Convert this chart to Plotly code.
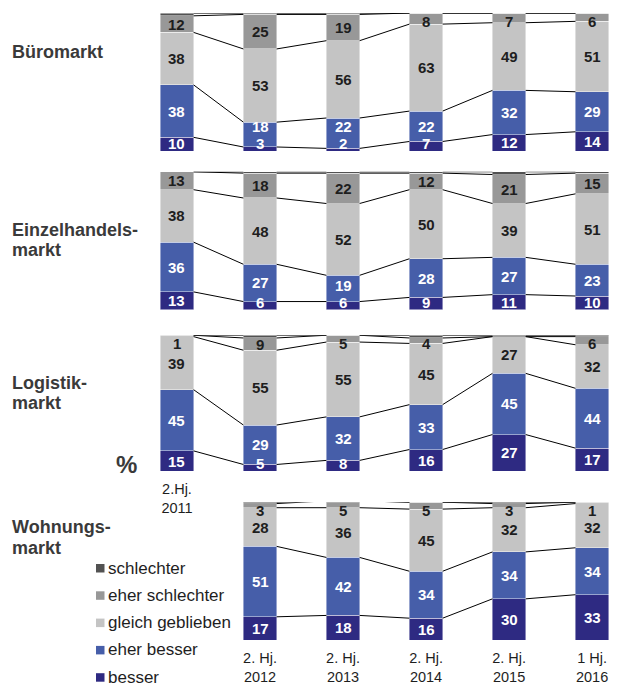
import plotly.graph_objects as go

# Survey periods (x positions 0..5)
periods = ["2.Hj. 2011", "2. Hj. 2012", "2. Hj. 2013", "2. Hj. 2014", "2. Hj. 2015", "1 Hj. 2016"]
tick_first = ["2.Hj.<br>2011"]
tick_bottom = ["2. Hj.<br>2012", "2. Hj.<br>2013", "2. Hj.<br>2014", "2. Hj.<br>2015", "1 Hj.<br>2016"]

series_names = ["besser", "eher besser", "gleich geblieben", "eher schlechter", "schlechter"]
series_colors = ["#2e2a82", "#465ea9", "#c4c4c4", "#989898", "#525252"]
label_colors = ["white", "white", "#1e1e1e", "#1e1e1e", None]

# Büromarkt
buero_besser = [10, 3, 2, 7, 12, 14]
buero_eher_besser = [38, 18, 22, 22, 32, 29]
buero_gleich = [38, 53, 56, 63, 49, 51]
buero_eher_schlechter = [12, 25, 19, 8, 7, 6]
buero_schlechter = [2, 1, 1, 0, 0, 0]

# Einzelhandelsmarkt
einzel_besser = [13, 6, 6, 9, 11, 10]
einzel_eher_besser = [36, 27, 19, 28, 27, 23]
einzel_gleich = [38, 48, 52, 50, 39, 51]
einzel_eher_schlechter = [13, 18, 22, 12, 21, 15]
einzel_schlechter = [0, 1, 1, 1, 2, 1]

# Logistikmarkt
logistik_besser = [15, 5, 8, 16, 27, 17]
logistik_eher_besser = [45, 29, 32, 33, 45, 44]
logistik_gleich = [39, 55, 55, 45, 27, 32]
logistik_eher_schlechter = [1, 9, 5, 4, 0, 6]
logistik_schlechter = [0, 2, 0, 2, 1, 1]

# Wohnungsmarkt (from 2. Hj. 2012)
wohnung_besser = [17, 18, 16, 30, 33]
wohnung_eher_besser = [51, 42, 34, 34, 34]
wohnung_gleich = [28, 36, 45, 32, 32]
wohnung_eher_schlechter = [3, 5, 5, 3, 1]
wohnung_schlechter = [1, 0, 0, 1, 0]

panels = [
    dict(x=[0, 1, 2, 3, 4, 5],
         data=[buero_besser, buero_eher_besser, buero_gleich, buero_eher_schlechter, buero_schlechter],
         domain=[0.780, 0.981]),
    dict(x=[0, 1, 2, 3, 4, 5],
         data=[einzel_besser, einzel_eher_besser, einzel_gleich, einzel_eher_schlechter, einzel_schlechter],
         domain=[0.549, 0.750]),
    dict(x=[0, 1, 2, 3, 4, 5],
         data=[logistik_besser, logistik_eher_besser, logistik_gleich, logistik_eher_schlechter, logistik_schlechter],
         domain=[0.314, 0.512]),
    dict(x=[1, 2, 3, 4, 5],
         data=[wohnung_besser, wohnung_eher_besser, wohnung_gleich, wohnung_eher_schlechter, wohnung_schlechter],
         domain=[0.068, 0.269]),
]

BAR_W = 0.4
FONT = "Arial, Liberation Sans, sans-serif"

fig = go.Figure()
annotations = []

for p_idx, panel in enumerate(panels):
    ax = "" if p_idx == 0 else str(p_idx + 1)
    xref, yref = "x" + ax, "y" + ax
    xs = panel["x"]
    data = panel["data"]

    # stacked bars
    for s_idx, values in enumerate(data):
        fig.add_trace(go.Bar(
            x=xs, y=values, width=BAR_W, name=series_names[s_idx],
            marker=dict(color=series_colors[s_idx],
                        line=dict(color="rgba(255,255,255,0.55)", width=0.8)),
            showlegend=False, xaxis=xref, yaxis=yref, hoverinfo="skip",
        ))

    # cumulative boundaries
    n = len(xs)
    cum = []
    running = [0] * n
    for values in data:
        running = [running[i] + values[i] for i in range(n)]
        cum.append(running)

    # connector lines between neighbouring bars at each boundary
    lx, ly = [], []
    for level in cum:
        for i in range(n - 1):
            lx += [xs[i] + BAR_W / 2, xs[i + 1] - BAR_W / 2, None]
            ly += [level[i], level[i + 1], None]
    fig.add_trace(go.Scatter(
        x=lx, y=ly, mode="lines", line=dict(color="black", width=1),
        showlegend=False, xaxis=xref, yaxis=yref, hoverinfo="skip",
    ))

    # value labels, nudged apart where segments are thin
    for i in range(n):
        lows = [0] + [cum[k][i] for k in range(4)]
        mids = [(lows[k] + cum[k][i]) / 2 for k in range(4)]
        pos = list(mids)
        pos[0] = max(mids[0], 5.5)
        pos[1] = max(mids[1], pos[0] + 12)
        pos[3] = min(mids[3], 94)
        if data[3][i] > 0:
            pos[2] = min(mids[2], pos[3] - 12)
        for k in range(4):
            v = data[k][i]
            if v <= 0:
                continue
            annotations.append(dict(
                x=xs[i], y=pos[k], xref=xref, yref=yref, text="<b>%d</b>" % v,
                showarrow=False, font=dict(family=FONT, size=15, color=label_colors[k]),
                xanchor="center", yanchor="middle",
            ))

# panel titles
titles = [("Büromarkt", 52), ("Einzelhandels-", 230), ("markt", 250),
          ("Logistik-", 383), ("markt", 403), ("Wohnungs-", 527), ("markt", 548)]
H = 687
W = 617
for text, ypx in titles:
    annotations.append(dict(
        x=10 / W, y=1 - ypx / H, xref="paper", yref="paper", text="<b>%s</b>" % text,
        showarrow=False, xanchor="left", yanchor="middle",
        font=dict(family=FONT, size=18, color="#3a3a3a"),
    ))
annotations.append(dict(
    x=126 / W, y=1 - 464 / H, xref="paper", yref="paper", text="<b>%</b>",
    showarrow=False, xanchor="center", yanchor="middle",
    font=dict(family=FONT, size=24, color="#3a3a3a"),
))

# legend (top entry = schlechter)
shapes = []
for j, s_idx in enumerate(range(4, -1, -1)):
    ypx = 568 + j * 27.3
    shapes.append(dict(
        type="rect", xref="paper", yref="paper",
        x0=96 / W, x1=104.5 / W, y0=1 - (ypx + 4.5) / H, y1=1 - (ypx - 4) / H,
        fillcolor=series_colors[s_idx], line=dict(width=0),
    ))
    annotations.append(dict(
        x=106 / W, y=1 - ypx / H, xref="paper", yref="paper", text=series_names[s_idx],
        showarrow=False, xanchor="left", yanchor="middle",
        font=dict(family=FONT, size=17, color="#1e1e1e"),
    ))

layout = dict(
    width=W, height=H, margin=dict(l=0, r=0, t=0, b=0),
    paper_bgcolor="white", plot_bgcolor="white",
    barmode="stack", showlegend=False,
    annotations=annotations, shapes=shapes,
    font=dict(family=FONT),
)
x_left, x_right = 150 / W, 1.0
for p_idx, panel in enumerate(panels):
    ax = "" if p_idx == 0 else str(p_idx + 1)
    xa = dict(domain=[x_left, x_right], range=[-0.325, 5.30], showgrid=False, zeroline=False,
              showline=False, ticks="", anchor="y" + ax, fixedrange=True,
              ticklabelstandoff=7,
              tickfont=dict(family=FONT, size=14.5, color="#1e1e1e"))
    if p_idx == 2:
        xa.update(tickmode="array", tickvals=[0], ticktext=tick_first, showticklabels=True)
    elif p_idx == 3:
        xa.update(tickmode="array", tickvals=[1, 2, 3, 4, 5], ticktext=tick_bottom, showticklabels=True)
    else:
        xa.update(showticklabels=False)
    ya = dict(domain=panel["domain"], range=[0, 100], showgrid=False, zeroline=False,
              showline=False, showticklabels=False, ticks="", anchor="x" + ax, fixedrange=True)
    layout["xaxis" + ax] = xa
    layout["yaxis" + ax] = ya

fig.update_layout(**layout)
fig.write_html("out.html")
